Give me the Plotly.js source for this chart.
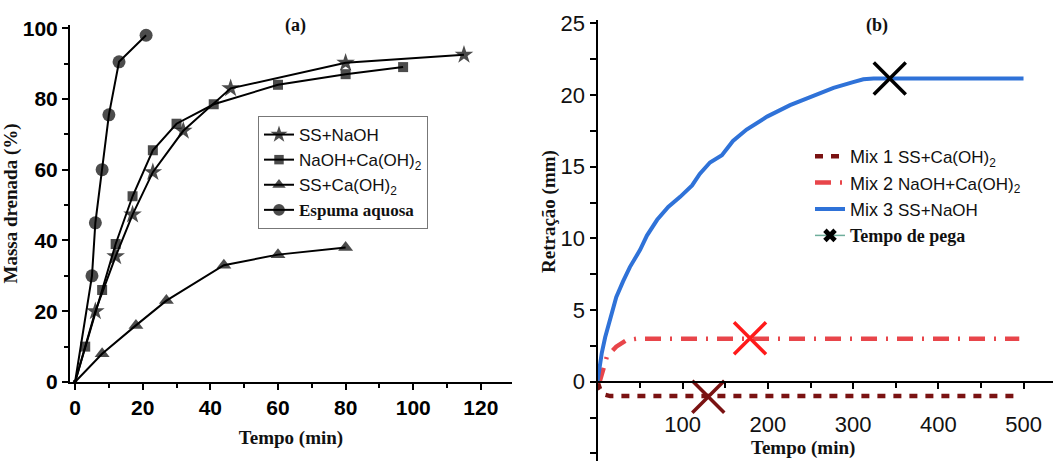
<!DOCTYPE html>
<html><head><meta charset="utf-8">
<script src="https://cdn.plot.ly/plotly-3.0.1.min.js"></script>
<style>html,body{margin:0;padding:0;background:#fff}#chart{width:1055px;height:461px}</style>
</head><body><div id="chart"></div>
<script>
// ---------- Panel (a): Massa drenada ----------
const namesA = ['SS+NaOH', 'NaOH+Ca(OH)<sub>2</sub>', 'SS+Ca(OH)<sub>2</sub>', 'Espuma aquosa'];
const ssNaohX = [0, 6, 12, 17, 23, 32, 46, 80, 115];
const ssNaohY = [0, 20, 35.5, 47.3, 59.3, 71, 83, 90.2, 92.5];
const naohCaX = [0, 3, 8, 12, 17, 23, 30, 41, 60, 80, 97];
const naohCaY = [0, 10, 26, 39, 52.5, 65.5, 73, 78.5, 84, 87, 89];
const ssCaX = [0, 8, 18, 27, 44, 60, 80];
const ssCaY = [0, 8, 16, 23, 33, 36, 38];
const espumaX = [0, 5, 6, 8, 10, 13, 21];
const espumaY = [0, 30, 45, 60, 75.5, 90.5, 98];

// ---------- Panel (b): Retração ----------
const namesB = ['Mix 1', 'Mix 2', 'Mix 3', 'Tempo de pega'];
const subB = ['SS+Ca(OH)<sub>2</sub>', 'NaOH+Ca(OH)<sub>2</sub>', 'SS+NaOH'];
const mix1X = [0, 3, 8, 15, 495];
const mix1Y = [0, -0.5, -0.9, -1, -1];
const mix2X = [0, 3, 11, 22, 34, 46, 495];
const mix2Y = [0, 0.1, 1.75, 2.45, 2.9, 3, 3];
const mix3X = [0, 5, 9, 15, 22, 30, 38, 50, 58, 70, 83, 97, 111, 120, 132, 146, 159, 175, 199, 226, 253, 277, 300, 312, 324, 400, 500];
const mix3Y = [0, 2, 3.1, 4.5, 5.9, 7, 8, 9.2, 10.2, 11.3, 12.2, 12.9, 13.7, 14.5, 15.3, 15.8, 16.8, 17.6, 18.5, 19.3, 19.9, 20.5, 20.9, 21.1, 21.15, 21.15, 21.15];
const pegaX = [130, 179, 343];
const pegaY = [-1.05, 3.03, 21.16];

const W = 1055, H = 461;
const SANS = 'Liberation Sans, Arial, sans-serif';
const SERIF = 'Liberation Serif, Times New Roman, serif';
const serifBold = t => '<span style="font-family:\'Liberation Serif\',serif;font-weight:bold">' + t + '</span>';

function seriesA(x, y, name, symbol, size) {
  return {
    x: x, y: y, name: name, type: 'scatter', mode: 'lines+markers',
    xaxis: 'x', yaxis: 'y', legend: 'legend', cliponaxis: false,
    line: {color: '#000', width: 2},
    marker: {symbol: symbol, size: x.map((v, i) => i === 0 ? 4 : size), color: '#000', line: {width: 0}}
  };
}

const traces = [
  seriesA(ssNaohX, ssNaohY, namesA[0], 'star', 14),
  seriesA(naohCaX, naohCaY, namesA[1], 'square', 10),
  seriesA(ssCaX, ssCaY, namesA[2], 'triangle-up', 13),
  seriesA(espumaX, espumaY, serifBold(namesA[3]), 'circle', 13),
  {
    x: mix1X, y: mix1Y, type: 'scatter', mode: 'lines', xaxis: 'x2', yaxis: 'y2', legend: 'legend2',
    name: namesB[0] + ' <span style="font-size:17px">' + subB[0] + '</span>',
    line: {color: '#7a1212', width: 4.5, dash: '8px,8px'}
  },
  {
    x: mix2X, y: mix2Y, type: 'scatter', mode: 'lines', xaxis: 'x2', yaxis: 'y2', legend: 'legend2',
    name: namesB[1] + ' <span style="font-size:17px">' + subB[1] + '</span>',
    line: {color: '#e8454a', width: 4.5, dash: '16px,9px,2px,9px'}
  },
  {
    x: mix3X, y: mix3Y, type: 'scatter', mode: 'lines', xaxis: 'x2', yaxis: 'y2', legend: 'legend2',
    name: namesB[2] + ' <span style="font-size:17px">' + subB[2] + '</span>',
    line: {color: '#2f72d8', width: 4}
  },
  {
    x: [null], y: [null], type: 'scatter', mode: 'lines+markers', xaxis: 'x2', yaxis: 'y2', legend: 'legend2',
    name: serifBold(namesB[3]),
    line: {color: '#6fae9c', width: 1.5},
    marker: {symbol: 'x', size: 12, color: '#000'}
  },
  {
    x: pegaX, y: pegaY, type: 'scatter', mode: 'markers', xaxis: 'x2', yaxis: 'y2', showlegend: false,
    cliponaxis: false,
    marker: {symbol: 'x-thin-open', size: 32, color: ['#7a1212', '#ff1a1a', '#000'], line: {width: 3.5}}
  }
];

const layout = {
  width: W, height: H,
  margin: {l: 0, r: 0, t: 0, b: 0},
  paper_bgcolor: '#fff', plot_bgcolor: 'rgba(0,0,0,0)',
  showlegend: true,
  xaxis: {
    domain: [70 / W, 512 / W], range: [-1.5, 129.2], anchor: 'y',
    showline: true, linecolor: '#000', linewidth: 2, showgrid: false, zeroline: false,
    ticks: 'outside', ticklen: 6, tickwidth: 2, tickcolor: '#000',
    tickmode: 'linear', tick0: 0, dtick: 20,
    minor: {ticks: 'outside', ticklen: 4, tickwidth: 2, tickcolor: '#000', dtick: 10},
    tickfont: {family: SANS, size: 21, color: '#000', weight: 'bold'},
    title: {text: 'Tempo (min)', font: {family: SERIF, size: 19, color: '#111', weight: 'bold'}, standoff: 12}
  },
  yaxis: {
    domain: [1 - 382 / H, 1 - 25 / H], range: [0, 100.9], anchor: 'x',
    showline: true, linecolor: '#000', linewidth: 2, showgrid: false, zeroline: false,
    ticks: 'outside', ticklen: 6, tickwidth: 2, tickcolor: '#000',
    tickmode: 'linear', tick0: 0, dtick: 20,
    minor: {ticks: 'outside', ticklen: 4, tickwidth: 2, tickcolor: '#000', dtick: 10},
    tickfont: {family: SANS, size: 21, color: '#000', weight: 'bold'},
    title: {text: 'Massa drenada (%)', font: {family: SERIF, size: 19, color: '#111', weight: 'bold'}, standoff: 4}
  },
  xaxis2: {
    domain: [597.5 / W, 1053 / W], range: [0, 534.6], anchor: 'free', position: (H - 381.7) / H,
    showline: true, linecolor: '#000', linewidth: 2, showgrid: false, zeroline: false,
    ticks: 'outside', ticklen: 6, tickwidth: 2, tickcolor: '#000',
    tickmode: 'array', tickvals: [100, 200, 300, 400, 500], ticktext: ['100', '200', '300', '400', '500'],
    minor: {ticks: 'outside', ticklen: 5, tickwidth: 2, tickcolor: '#000', tickvals: [50, 150, 250, 350, 450]},
    ticklabelstandoff: 17,
    tickfont: {family: SANS, size: 22, color: '#111'}
  },
  yaxis2: {
    domain: [0, 1 - 20 / H], range: [-5.53, 25.24], anchor: 'x2',
    showline: true, linecolor: '#000', linewidth: 2, showgrid: false, zeroline: false,
    ticks: 'outside', ticklen: 6, tickwidth: 2, tickcolor: '#000',
    tickmode: 'linear', tick0: 0, dtick: 5,
    minor: {ticks: 'outside', ticklen: 6, tickwidth: 2, tickcolor: '#000', dtick: 2.5},
    tickfont: {family: SANS, size: 22, color: '#111'}
  },
  legend: {
    x: 258 / W, y: 1 - 116 / H, xanchor: 'left', yanchor: 'top',
    bgcolor: '#fff', bordercolor: '#777', borderwidth: 1,
    font: {family: SANS, size: 17, color: '#111'}, tracegroupgap: 0, itemwidth: 30
  },
  legend2: {
    x: 810 / W, y: 1 - 138 / H, xanchor: 'left', yanchor: 'top',
    bgcolor: 'rgba(0,0,0,0)', borderwidth: 0,
    font: {family: SANS, size: 18, color: '#111'}, tracegroupgap: 0, itemwidth: 30
  },
  annotations: [
    {text: '(a)', xref: 'paper', yref: 'paper', x: 283 / W, y: 1 - 25 / H, yanchor: 'middle', showarrow: false,
     font: {family: SERIF, size: 18, color: '#111', weight: 'bold'}},
    {text: '(b)', xref: 'paper', yref: 'paper', x: 890 / W, y: 1 - 25 / H, yanchor: 'middle', showarrow: false,
     font: {family: SERIF, size: 18, color: '#111', weight: 'bold'}},
    {text: 'Tempo (min)', xref: 'paper', yref: 'paper', x: 857 / W, y: 1 - 448 / H, yanchor: 'middle', showarrow: false,
     font: {family: SERIF, size: 19, color: '#111', weight: 'bold'}},
    {text: 'Retração (mm)', xref: 'paper', yref: 'paper', x: 549 / W, y: 1 - 212 / H, yanchor: 'middle', showarrow: false,
     textangle: -90, font: {family: SERIF, size: 19, color: '#111', weight: 'bold'}}
  ]
};

Plotly.newPlot('chart', traces, layout, {staticPlot: true, displayModeBar: false});
</script>
</body></html>
